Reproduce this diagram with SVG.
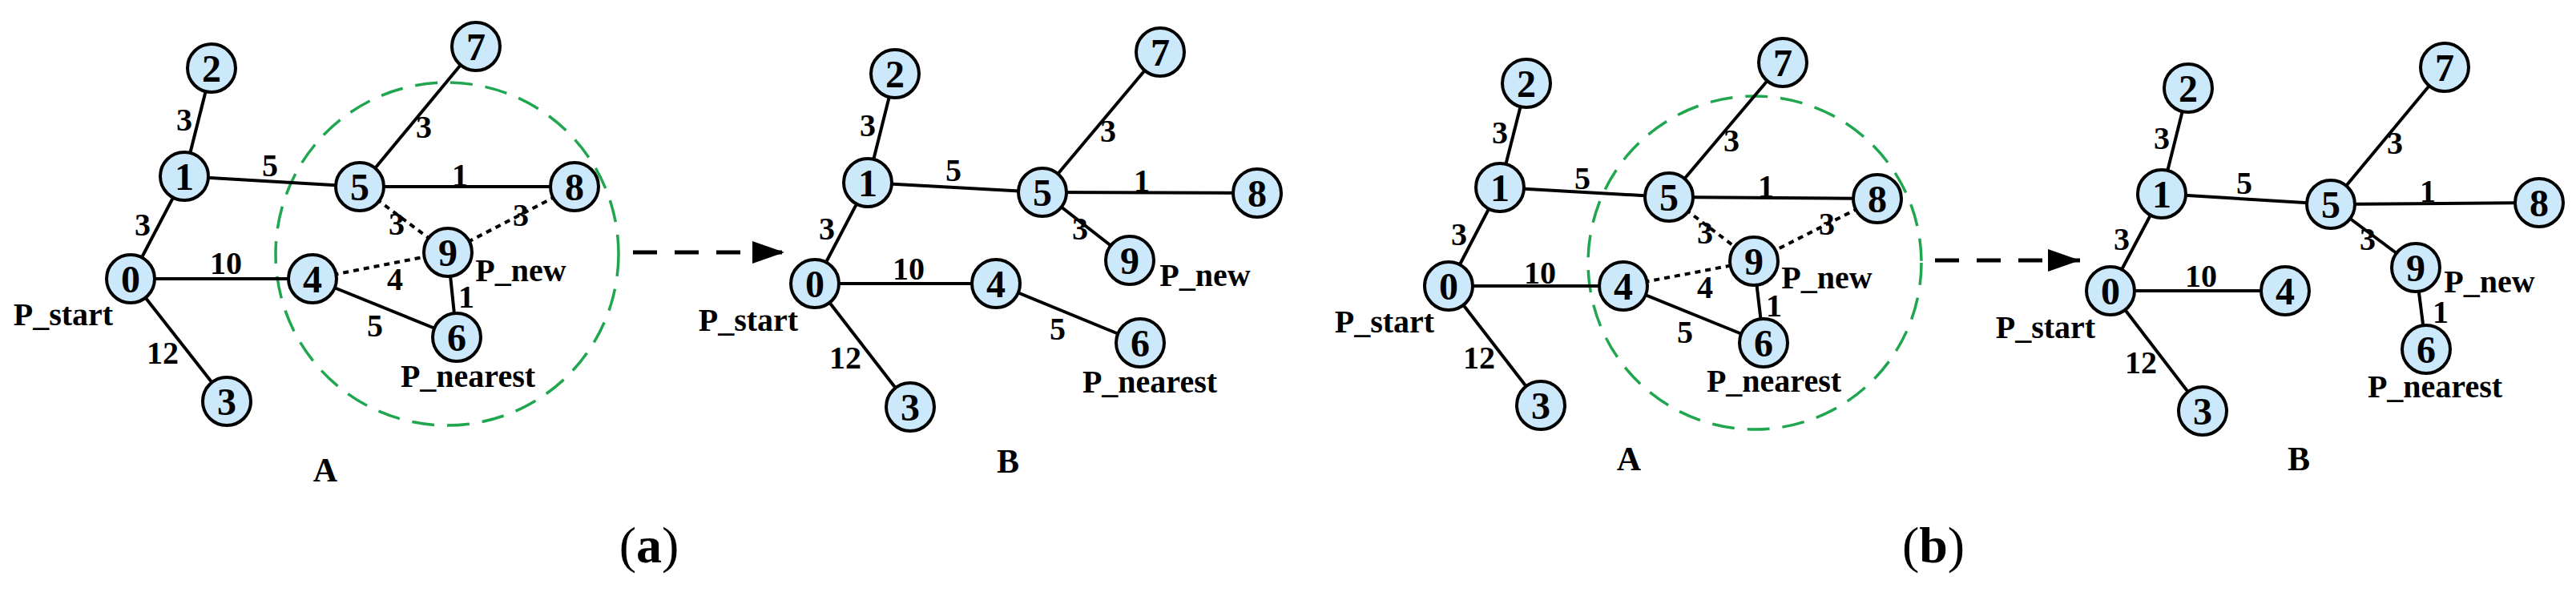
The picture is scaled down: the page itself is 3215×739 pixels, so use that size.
<svg xmlns="http://www.w3.org/2000/svg" width="3215" height="739" viewBox="0 0 3215 739">
<style>
.n{fill:#cce8fb;stroke:#000;stroke-width:4}
.nt{font-family:"Liberation Serif",serif;font-weight:bold;font-size:48px;text-anchor:middle;dominant-baseline:central}
.e{stroke:#000;stroke-width:4;fill:none}
.d{stroke:#000;stroke-width:4;fill:none;stroke-dasharray:7,6}
.l{font-family:"Liberation Serif",serif;font-weight:bold;font-size:40px;text-anchor:middle;dominant-baseline:central}
.t{font-family:"Liberation Serif",serif;font-weight:bold;font-size:42px;text-anchor:middle;dominant-baseline:central}
.c{fill:none;stroke:#1fa64f;stroke-width:3.5;stroke-dasharray:28,16}
.ar{stroke:#000;stroke-width:5;fill:none;stroke-dasharray:30,22}
.cap{font-family:"Liberation Serif",serif;font-size:64px;text-anchor:middle}
</style>
<defs>
<marker id="ah" markerWidth="10" markerHeight="8" refX="1" refY="4" orient="auto" markerUnits="userSpaceOnUse" viewBox="0 0 10 8"><path d="M0,0 L10,4 L0,8 z" fill="#000"/></marker>
<marker id="arr" viewBox="0 0 40 28" refX="40" refY="14" markerWidth="40" markerHeight="28" markerUnits="userSpaceOnUse" orient="auto"><path d="M0,0 L40,14 L0,28 z" fill="#000"/></marker>
</defs>

<!-- ===== Panel (a) A ===== -->
<circle class="c" cx="558" cy="317" r="214"/>
<g id="edges-aA">
<line class="e" x1="264" y1="85" x2="230" y2="220"/>
<line class="e" x1="230" y1="220" x2="163" y2="348"/>
<line class="e" x1="163" y1="348" x2="283" y2="501"/>
<line class="e" x1="163" y1="348" x2="390" y2="348"/>
<line class="e" x1="230" y1="220" x2="449" y2="233"/>
<line class="e" x1="449" y1="233" x2="594" y2="58"/>
<line class="e" x1="449" y1="233" x2="717" y2="233"/>
<line class="e" x1="390" y1="348" x2="570" y2="421"/>
<line class="e" x1="559" y1="315" x2="570" y2="421"/>
<line class="d" x1="449" y1="233" x2="559" y2="315"/>
<line class="d" x1="717" y1="233" x2="559" y2="315"/>
<line class="d" x1="390" y1="348" x2="559" y2="315"/>
</g>
<g id="nodes-aA">
<g id="aA0"><circle class="n" cx="163" cy="348" r="30"/><text class="nt" x="163" y="348">0</text></g>
<g id="aA1"><circle class="n" cx="230" cy="220" r="30"/><text class="nt" x="230" y="220">1</text></g>
<g id="aA2"><circle class="n" cx="264" cy="85" r="30"/><text class="nt" x="264" y="85">2</text></g>
<g id="aA3"><circle class="n" cx="283" cy="501" r="30"/><text class="nt" x="283" y="501">3</text></g>
<g id="aA4"><circle class="n" cx="390" cy="348" r="30"/><text class="nt" x="390" y="348">4</text></g>
<g id="aA5"><circle class="n" cx="449" cy="233" r="30"/><text class="nt" x="449" y="233">5</text></g>
<g id="aA6"><circle class="n" cx="570" cy="421" r="30"/><text class="nt" x="570" y="421">6</text></g>
<g id="aA7"><circle class="n" cx="594" cy="58" r="30"/><text class="nt" x="594" y="58">7</text></g>
<g id="aA8"><circle class="n" cx="717" cy="233" r="30"/><text class="nt" x="717" y="233">8</text></g>
<g id="aA9"><circle class="n" cx="559" cy="315" r="30"/><text class="nt" x="559" y="315">9</text></g>
</g>
<g id="labels-aA">
<text class="l" x="230" y="149">3</text>
<text class="l" x="178" y="280">3</text>
<text class="l" x="337" y="206">5</text>
<text class="l" x="529" y="158">3</text>
<text class="l" x="574" y="218">1</text>
<text class="l" x="495" y="279">3</text>
<text class="l" x="650" y="268">3</text>
<text class="l" x="282" y="328">10</text>
<text class="l" x="493" y="348">4</text>
<text class="l" x="468" y="406">5</text>
<text class="l" x="582" y="370">1</text>
<text class="l" x="203" y="440">12</text>
<text class="l" x="79" y="392">P_start</text>
<text class="l" x="650" y="337">P_new</text>
<text class="l" x="584" y="469">P_nearest</text>
<text class="t" x="406" y="587">A</text>
</g>

<g id="arrow-a"><line class="ar" x1="790" y1="315" x2="979" y2="315" marker-end="url(#arr)"/></g>

<!-- ===== Panel (a) B ===== -->
<g id="edges-aB">
<line class="e" x1="1117" y1="92" x2="1083" y2="228"/>
<line class="e" x1="1083" y1="228" x2="1017" y2="354"/>
<line class="e" x1="1017" y1="354" x2="1136" y2="508"/>
<line class="e" x1="1017" y1="354" x2="1243" y2="354"/>
<line class="e" x1="1243" y1="354" x2="1423" y2="428"/>
<line class="e" x1="1083" y1="228" x2="1301" y2="240"/>
<line class="e" x1="1301" y1="240" x2="1448" y2="65"/>
<line class="e" x1="1301" y1="240" x2="1569" y2="241"/>
<line class="e" x1="1301" y1="240" x2="1410" y2="325"/>
</g>
<g id="nodes-aB">
<g id="aB0"><circle class="n" cx="1017" cy="354" r="30"/><text class="nt" x="1017" y="354">0</text></g>
<g id="aB1"><circle class="n" cx="1083" cy="228" r="30"/><text class="nt" x="1083" y="228">1</text></g>
<g id="aB2"><circle class="n" cx="1117" cy="92" r="30"/><text class="nt" x="1117" y="92">2</text></g>
<g id="aB3"><circle class="n" cx="1136" cy="508" r="30"/><text class="nt" x="1136" y="508">3</text></g>
<g id="aB4"><circle class="n" cx="1243" cy="354" r="30"/><text class="nt" x="1243" y="354">4</text></g>
<g id="aB5"><circle class="n" cx="1301" cy="240" r="30"/><text class="nt" x="1301" y="240">5</text></g>
<g id="aB6"><circle class="n" cx="1423" cy="428" r="30"/><text class="nt" x="1423" y="428">6</text></g>
<g id="aB7"><circle class="n" cx="1448" cy="65" r="30"/><text class="nt" x="1448" y="65">7</text></g>
<g id="aB8"><circle class="n" cx="1569" cy="241" r="30"/><text class="nt" x="1569" y="241">8</text></g>
<g id="aB9"><circle class="n" cx="1410" cy="325" r="30"/><text class="nt" x="1410" y="325">9</text></g>
</g>
<g id="labels-aB">
<text class="l" x="1083" y="156">3</text>
<text class="l" x="1032" y="285">3</text>
<text class="l" x="1190" y="212">5</text>
<text class="l" x="1383" y="163">3</text>
<text class="l" x="1425" y="225">1</text>
<text class="l" x="1348" y="285">3</text>
<text class="l" x="1134" y="335">10</text>
<text class="l" x="1320" y="410">5</text>
<text class="l" x="1055" y="446">12</text>
<text class="l" x="934" y="399">P_start</text>
<text class="l" x="1504" y="343">P_new</text>
<text class="l" x="1435" y="476">P_nearest</text>
<text class="t" x="1258" y="576">B</text>
</g>
<text class="cap" x="810" y="702">(<tspan font-weight="bold">a</tspan>)</text>

<!-- ===== Panel (b) A ===== -->
<circle class="c" cx="2190" cy="328" r="208"/>
<g id="edges-bA">
<line class="e" x1="1905" y1="104" x2="1872" y2="234"/>
<line class="e" x1="1872" y1="234" x2="1808" y2="357"/>
<line class="e" x1="1808" y1="357" x2="1923" y2="506"/>
<line class="e" x1="1808" y1="357" x2="2026" y2="357"/>
<line class="e" x1="1872" y1="234" x2="2083" y2="246"/>
<line class="e" x1="2083" y1="246" x2="2225" y2="78"/>
<line class="e" x1="2083" y1="246" x2="2343" y2="248"/>
<line class="e" x1="2026" y1="357" x2="2201" y2="428"/>
<line class="e" x1="2189" y1="326" x2="2201" y2="428"/>
<line class="d" x1="2083" y1="246" x2="2189" y2="326"/>
<line class="d" x1="2343" y1="248" x2="2189" y2="326"/>
<line class="d" x1="2026" y1="357" x2="2189" y2="326"/>
</g>
<g id="nodes-bA">
<g id="bA0"><circle class="n" cx="1808" cy="357" r="30"/><text class="nt" x="1808" y="357">0</text></g>
<g id="bA1"><circle class="n" cx="1872" cy="234" r="30"/><text class="nt" x="1872" y="234">1</text></g>
<g id="bA2"><circle class="n" cx="1905" cy="104" r="30"/><text class="nt" x="1905" y="104">2</text></g>
<g id="bA3"><circle class="n" cx="1923" cy="506" r="30"/><text class="nt" x="1923" y="506">3</text></g>
<g id="bA4"><circle class="n" cx="2026" cy="357" r="30"/><text class="nt" x="2026" y="357">4</text></g>
<g id="bA5"><circle class="n" cx="2083" cy="246" r="30"/><text class="nt" x="2083" y="246">5</text></g>
<g id="bA6"><circle class="n" cx="2201" cy="428" r="30"/><text class="nt" x="2201" y="428">6</text></g>
<g id="bA7"><circle class="n" cx="2225" cy="78" r="30"/><text class="nt" x="2225" y="78">7</text></g>
<g id="bA8"><circle class="n" cx="2343" cy="248" r="30"/><text class="nt" x="2343" y="248">8</text></g>
<g id="bA9"><circle class="n" cx="2189" cy="326" r="30"/><text class="nt" x="2189" y="326">9</text></g>
</g>
<g id="labels-bA">
<text class="l" x="1872" y="165">3</text>
<text class="l" x="1821" y="292">3</text>
<text class="l" x="1975" y="222">5</text>
<text class="l" x="2161" y="175">3</text>
<text class="l" x="2204" y="232">1</text>
<text class="l" x="2128" y="290">3</text>
<text class="l" x="2280" y="279">3</text>
<text class="l" x="1922" y="340">10</text>
<text class="l" x="2128" y="358">4</text>
<text class="l" x="2103" y="414">5</text>
<text class="l" x="2214" y="381">1</text>
<text class="l" x="1846" y="446">12</text>
<text class="l" x="1728" y="401">P_start</text>
<text class="l" x="2280" y="346">P_new</text>
<text class="l" x="2214" y="475">P_nearest</text>
<text class="t" x="2033" y="573">A</text>
</g>

<g id="arrow-b"><line class="ar" x1="2415" y1="325" x2="2596" y2="325" marker-end="url(#arr)"/></g>

<!-- ===== Panel (b) B ===== -->
<g id="edges-bB">
<line class="e" x1="2731" y1="110" x2="2698" y2="242"/>
<line class="e" x1="2698" y1="242" x2="2634" y2="363"/>
<line class="e" x1="2634" y1="363" x2="2749" y2="513"/>
<line class="e" x1="2634" y1="363" x2="2852" y2="363"/>
<line class="e" x1="2698" y1="242" x2="2909" y2="255"/>
<line class="e" x1="2909" y1="255" x2="3051" y2="84"/>
<line class="e" x1="2909" y1="255" x2="3169" y2="253"/>
<line class="e" x1="2909" y1="255" x2="3015" y2="334"/>
<line class="e" x1="3015" y1="334" x2="3028" y2="436"/>
</g>
<g id="nodes-bB">
<g id="bB0"><circle class="n" cx="2634" cy="363" r="30"/><text class="nt" x="2634" y="363">0</text></g>
<g id="bB1"><circle class="n" cx="2698" cy="242" r="30"/><text class="nt" x="2698" y="242">1</text></g>
<g id="bB2"><circle class="n" cx="2731" cy="110" r="30"/><text class="nt" x="2731" y="110">2</text></g>
<g id="bB3"><circle class="n" cx="2749" cy="513" r="30"/><text class="nt" x="2749" y="513">3</text></g>
<g id="bB4"><circle class="n" cx="2852" cy="363" r="30"/><text class="nt" x="2852" y="363">4</text></g>
<g id="bB5"><circle class="n" cx="2909" cy="255" r="30"/><text class="nt" x="2909" y="255">5</text></g>
<g id="bB6"><circle class="n" cx="3028" cy="436" r="30"/><text class="nt" x="3028" y="436">6</text></g>
<g id="bB7"><circle class="n" cx="3051" cy="84" r="30"/><text class="nt" x="3051" y="84">7</text></g>
<g id="bB8"><circle class="n" cx="3169" cy="253" r="30"/><text class="nt" x="3169" y="253">8</text></g>
<g id="bB9"><circle class="n" cx="3015" cy="334" r="30"/><text class="nt" x="3015" y="334">9</text></g>
</g>
<g id="labels-bB">
<text class="l" x="2698" y="172">3</text>
<text class="l" x="2648" y="298">3</text>
<text class="l" x="2801" y="228">5</text>
<text class="l" x="2989" y="178">3</text>
<text class="l" x="3030" y="238">1</text>
<text class="l" x="2955" y="298">3</text>
<text class="l" x="2747" y="344">10</text>
<text class="l" x="2672" y="452">12</text>
<text class="l" x="3046" y="389">1</text>
<text class="l" x="2553" y="408">P_start</text>
<text class="l" x="3107" y="351">P_new</text>
<text class="l" x="3039" y="482">P_nearest</text>
<text class="t" x="2869" y="573">B</text>
</g>
<text class="cap" x="2413" y="702">(<tspan font-weight="bold">b</tspan>)</text>
</svg>
